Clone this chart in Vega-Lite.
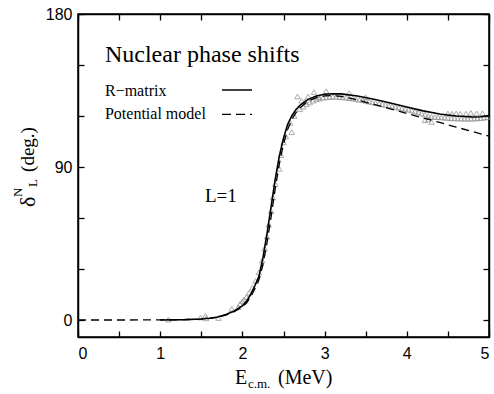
{
  "$schema": "https://vega.github.io/schema/vega-lite/v6.json",
  "width": 411,
  "height": 323,
  "autosize": {"type": "none"},
  "padding": {"left": 78, "top": 14, "right": 5, "bottom": 57},
  "background": "white",
  "config": {
    "view": {"stroke": "black", "strokeWidth": 1.5},
    "axis": {"domainColor": "black", "labelColor": "black", "labelFont": "Liberation Sans", "labelFontSize": 16, "grid": false, "domainWidth": 1.5}
  },
  "datasets": {
    "rmatrix": [
      {"E": 1.0, "deg": 0.0}, {"E": 1.3, "deg": 0.2}, {"E": 1.5, "deg": 0.6}, {"E": 1.6, "deg": 1.0},
      {"E": 1.7, "deg": 1.8}, {"E": 1.8, "deg": 3.2}, {"E": 1.9, "deg": 5.3}, {"E": 2.0, "deg": 8.3},
      {"E": 2.05, "deg": 11.0}, {"E": 2.1, "deg": 15.0}, {"E": 2.15, "deg": 20.0}, {"E": 2.2, "deg": 25.5},
      {"E": 2.25, "deg": 36.5}, {"E": 2.3, "deg": 51.0}, {"E": 2.35, "deg": 67.0}, {"E": 2.4, "deg": 83.0},
      {"E": 2.45, "deg": 96.5}, {"E": 2.5, "deg": 107.0}, {"E": 2.55, "deg": 115.0}, {"E": 2.6, "deg": 120.0},
      {"E": 2.65, "deg": 123.7}, {"E": 2.7, "deg": 126.2}, {"E": 2.8, "deg": 129.8}, {"E": 2.9, "deg": 131.8},
      {"E": 3.0, "deg": 132.8}, {"E": 3.1, "deg": 133.1}, {"E": 3.2, "deg": 133.0}, {"E": 3.4, "deg": 131.8},
      {"E": 3.6, "deg": 129.8}, {"E": 3.8, "deg": 127.6}, {"E": 4.0, "deg": 125.3}, {"E": 4.2, "deg": 123.0},
      {"E": 4.4, "deg": 121.2}, {"E": 4.6, "deg": 120.0}, {"E": 4.8, "deg": 119.4}, {"E": 4.9, "deg": 119.6},
      {"E": 5.0, "deg": 120.3}
    ],
    "potential": [
      {"E": 0.0, "deg": 0.0}, {"E": 0.5, "deg": 0.0}, {"E": 1.0, "deg": 0.05}, {"E": 1.3, "deg": 0.2},
      {"E": 1.5, "deg": 0.5}, {"E": 1.6, "deg": 0.9}, {"E": 1.7, "deg": 1.6}, {"E": 1.8, "deg": 2.9},
      {"E": 1.9, "deg": 4.9}, {"E": 2.0, "deg": 7.8}, {"E": 2.05, "deg": 10.0}, {"E": 2.1, "deg": 13.5},
      {"E": 2.15, "deg": 18.3}, {"E": 2.2, "deg": 23.5}, {"E": 2.25, "deg": 32.5}, {"E": 2.3, "deg": 45.5},
      {"E": 2.35, "deg": 61.0}, {"E": 2.4, "deg": 77.5}, {"E": 2.45, "deg": 92.0}, {"E": 2.5, "deg": 103.5},
      {"E": 2.55, "deg": 112.0}, {"E": 2.6, "deg": 117.8}, {"E": 2.65, "deg": 121.8}, {"E": 2.7, "deg": 124.8},
      {"E": 2.8, "deg": 128.8}, {"E": 2.9, "deg": 130.8}, {"E": 3.0, "deg": 131.8}, {"E": 3.1, "deg": 132.0},
      {"E": 3.2, "deg": 131.6}, {"E": 3.4, "deg": 129.4}, {"E": 3.6, "deg": 126.8}, {"E": 3.8, "deg": 124.2},
      {"E": 4.0, "deg": 121.5}, {"E": 4.2, "deg": 118.8}, {"E": 4.4, "deg": 116.2}, {"E": 4.6, "deg": 113.5},
      {"E": 4.8, "deg": 110.8}, {"E": 5.0, "deg": 108.2}
    ],
    "expt": [
      {"E": 1.10, "deg": 0.3}, {"E": 1.49, "deg": 1.5}, {"E": 1.55, "deg": 2.5}, {"E": 1.56, "deg": 1.0},
      {"E": 1.71, "deg": 1.2}, {"E": 1.87, "deg": 6.5}, {"E": 1.95, "deg": 7.5}, {"E": 1.97, "deg": 9.5},
      {"E": 2.0, "deg": 11.0}, {"E": 2.02, "deg": 12.0}, {"E": 2.05, "deg": 13.5}, {"E": 2.08, "deg": 16.0},
      {"E": 2.12, "deg": 19.0}, {"E": 2.16, "deg": 23.0}, {"E": 2.2, "deg": 28.0}, {"E": 2.24, "deg": 35.0},
      {"E": 2.27, "deg": 42.0}, {"E": 2.3, "deg": 49.0}, {"E": 2.32, "deg": 56.0}, {"E": 2.35, "deg": 64.0},
      {"E": 2.37, "deg": 72.0}, {"E": 2.4, "deg": 80.0}, {"E": 2.45, "deg": 89.0}, {"E": 2.47, "deg": 97.0},
      {"E": 2.5, "deg": 104.5}, {"E": 2.53, "deg": 108.0}, {"E": 2.6, "deg": 110.5}, {"E": 2.58, "deg": 116.0},
      {"E": 2.63, "deg": 120.0}, {"E": 2.67, "deg": 131.5}, {"E": 2.72, "deg": 129.0}, {"E": 2.76, "deg": 128.5},
      {"E": 2.8, "deg": 131.5}, {"E": 2.87, "deg": 134.0}, {"E": 2.92, "deg": 131.0}, {"E": 3.02, "deg": 134.6},
      {"E": 3.3, "deg": 133.5}, {"E": 3.5, "deg": 131.0},
      {"E": 2.70, "deg": 124.0}, {"E": 2.74, "deg": 125.5}, {"E": 2.78, "deg": 127.0}, {"E": 2.82, "deg": 128.0},
      {"E": 2.86, "deg": 129.0}, {"E": 2.90, "deg": 129.8}, {"E": 2.94, "deg": 130.3}, {"E": 2.98, "deg": 130.8},
      {"E": 3.02, "deg": 131.0}, {"E": 3.06, "deg": 131.2}, {"E": 3.10, "deg": 131.3}, {"E": 3.14, "deg": 131.3},
      {"E": 3.18, "deg": 131.2}, {"E": 3.22, "deg": 131.0}, {"E": 3.26, "deg": 130.8}, {"E": 3.30, "deg": 130.5},
      {"E": 3.34, "deg": 130.3}, {"E": 3.38, "deg": 130.0}, {"E": 3.42, "deg": 129.6}, {"E": 3.46, "deg": 129.3},
      {"E": 3.50, "deg": 128.9}, {"E": 3.54, "deg": 128.5}, {"E": 3.58, "deg": 128.1}, {"E": 3.62, "deg": 127.7},
      {"E": 3.66, "deg": 127.3}, {"E": 3.70, "deg": 126.9}, {"E": 3.74, "deg": 126.5}, {"E": 3.78, "deg": 126.1},
      {"E": 3.82, "deg": 125.7}, {"E": 3.86, "deg": 125.3}, {"E": 3.90, "deg": 124.9}, {"E": 3.94, "deg": 124.5},
      {"E": 3.98, "deg": 124.1}, {"E": 4.02, "deg": 123.7}, {"E": 4.06, "deg": 123.2}, {"E": 4.10, "deg": 122.7},
      {"E": 4.14, "deg": 122.2}, {"E": 4.18, "deg": 121.5}, {"E": 4.22, "deg": 120.8}, {"E": 4.26, "deg": 120.0},
      {"E": 4.30, "deg": 119.5}, {"E": 4.34, "deg": 119.4}, {"E": 4.38, "deg": 119.3}, {"E": 4.42, "deg": 119.2},
      {"E": 4.46, "deg": 119.0}, {"E": 4.50, "deg": 118.8}, {"E": 4.54, "deg": 118.7}, {"E": 4.58, "deg": 118.6},
      {"E": 4.62, "deg": 118.5}, {"E": 4.66, "deg": 118.5}, {"E": 4.70, "deg": 118.4}, {"E": 4.74, "deg": 118.4},
      {"E": 4.78, "deg": 118.4}, {"E": 4.82, "deg": 118.5}, {"E": 4.86, "deg": 118.6}, {"E": 4.90, "deg": 118.8},
      {"E": 4.94, "deg": 119.0}, {"E": 4.98, "deg": 119.3},
      {"E": 4.22, "deg": 117.5}, {"E": 4.30, "deg": 116.5}, {"E": 4.26, "deg": 118.0}, {"E": 4.50, "deg": 121.5},
      {"E": 4.55, "deg": 121.3}, {"E": 4.60, "deg": 121.5}, {"E": 4.65, "deg": 121.3}, {"E": 4.72, "deg": 121.4},
      {"E": 4.78, "deg": 121.8}, {"E": 4.85, "deg": 121.5}, {"E": 4.92, "deg": 121.6}
    ]
  },
  "layer": [
    {
      "data": {"name": "expt"},
      "mark": {"type": "point", "shape": "triangle-up", "filled": false, "stroke": "#8a8a8a", "strokeWidth": 1, "size": 30},
      "encoding": {
        "x": {"field": "E", "type": "quantitative", "scale": {"domain": [0, 5], "nice": false, "zero": false},
          "axis": {"orient": "bottom", "title": null, "values": [0, 0.5, 1, 1.5, 2, 2.5, 3, 3.5, 4, 4.5, 5],
            "labelExpr": "datum.value % 1 === 0 ? format(datum.value, 'd') : ''", "labelPadding": 14,
            "tickColor": "black", "tickWidth": 1.3, "tickSize": -6}},
        "y": {"field": "deg", "type": "quantitative", "scale": {"domain": [-10, 180], "nice": false, "zero": false},
          "axis": {"orient": "left", "title": null, "values": [0, 30, 60, 90, 120, 150, 180],
            "labelExpr": "datum.value % 90 === 0 ? format(datum.value, 'd') : ''", "labelPadding": 12,
            "tickColor": "black", "tickWidth": 1.3, "tickSize": -6}}
      }
    },
    {
      "data": {"name": "potential"},
      "mark": {"type": "line", "color": "black", "strokeWidth": 1.3, "strokeDash": [8, 5]},
      "encoding": {
        "x": {"field": "E", "type": "quantitative",
          "axis": {"orient": "top", "title": null, "values": [0, 0.5, 1, 1.5, 2, 2.5, 3, 3.5, 4, 4.5, 5], "labels": false,
            "tickColor": "black", "tickWidth": 1.3, "tickSize": -6}},
        "y": {"field": "deg", "type": "quantitative",
          "axis": {"orient": "right", "title": null, "values": [0, 30, 60, 90, 120, 150, 180], "labels": false,
            "tickColor": "black", "tickWidth": 1.3, "tickSize": -6}}
      }
    },
    {
      "data": {"name": "rmatrix"},
      "mark": {"type": "line", "color": "black", "strokeWidth": 1.6},
      "encoding": {
        "x": {"field": "E", "type": "quantitative", "axis": null},
        "y": {"field": "deg", "type": "quantitative", "axis": null}
      }
    },
    {
      "data": {"values": [{"s": "solid"}]},
      "mark": {"type": "rule", "color": "black", "strokeWidth": 1.5},
      "encoding": {
        "x": {"datum": 1.752, "type": "quantitative", "axis": null}, "x2": {"datum": 2.117},
        "y": {"datum": 135.3, "type": "quantitative", "axis": null}
      }
    },
    {
      "data": {"values": [{"s": "dashed"}]},
      "mark": {"type": "rule", "color": "black", "strokeWidth": 1.3, "strokeDash": [9, 5]},
      "encoding": {
        "x": {"datum": 1.752, "type": "quantitative", "axis": null}, "x2": {"datum": 2.117},
        "y": {"datum": 120.9, "type": "quantitative", "axis": null}
      }
    },
    {
      "data": {"values": [{"t": "Nuclear phase shifts"}]},
      "mark": {"type": "text", "font": "Liberation Serif", "fontSize": 24, "align": "left", "baseline": "alphabetic", "color": "black"},
      "encoding": {"text": {"field": "t"}, "x": {"datum": 0.328, "type": "quantitative", "axis": null}, "y": {"datum": 151.8, "type": "quantitative", "axis": null}}
    },
    {
      "data": {"values": [{"t": "R−matrix"}]},
      "mark": {"type": "text", "font": "Liberation Serif", "fontSize": 16, "align": "left", "baseline": "alphabetic", "color": "black"},
      "encoding": {"text": {"field": "t"}, "x": {"datum": 0.328, "type": "quantitative", "axis": null}, "y": {"datum": 131.8, "type": "quantitative", "axis": null}}
    },
    {
      "data": {"values": [{"t": "Potential model"}]},
      "mark": {"type": "text", "font": "Liberation Serif", "fontSize": 16, "align": "left", "baseline": "alphabetic", "color": "black"},
      "encoding": {"text": {"field": "t"}, "x": {"datum": 0.328, "type": "quantitative", "axis": null}, "y": {"datum": 118.2, "type": "quantitative", "axis": null}}
    },
    {
      "data": {"values": [{"t": "L=1"}]},
      "mark": {"type": "text", "font": "Liberation Serif", "fontSize": 19, "align": "left", "baseline": "alphabetic", "color": "black"},
      "encoding": {"text": {"field": "t"}, "x": {"datum": 1.545, "type": "quantitative", "axis": null}, "y": {"datum": 69.4, "type": "quantitative", "axis": null}}
    },
    {
      "data": {"values": [{"t": "E"}]},
      "mark": {"type": "text", "font": "Liberation Serif", "fontSize": 20, "align": "left", "baseline": "alphabetic", "color": "black"},
      "encoding": {"text": {"field": "t"}, "x": {"datum": 1.91, "type": "quantitative", "axis": null}, "y": {"datum": -37.6, "type": "quantitative", "axis": null}}
    },
    {
      "data": {"values": [{"t": "c.m."}]},
      "mark": {"type": "text", "font": "Liberation Serif", "fontSize": 13, "align": "left", "baseline": "alphabetic", "color": "black"},
      "encoding": {"text": {"field": "t"}, "x": {"datum": 2.068, "type": "quantitative", "axis": null}, "y": {"datum": -40.0, "type": "quantitative", "axis": null}}
    },
    {
      "data": {"values": [{"t": "(MeV)"}]},
      "mark": {"type": "text", "font": "Liberation Serif", "fontSize": 20, "align": "left", "baseline": "alphabetic", "color": "black"},
      "encoding": {"text": {"field": "t"}, "x": {"datum": 2.433, "type": "quantitative", "axis": null}, "y": {"datum": -37.6, "type": "quantitative", "axis": null}}
    },
    {
      "data": {"values": [{"t": "δ"}]},
      "mark": {"type": "text", "font": "Liberation Serif", "fontSize": 22, "align": "left", "baseline": "alphabetic", "angle": 270, "color": "black"},
      "encoding": {"text": {"field": "t"}, "x": {"datum": -0.523, "type": "quantitative", "axis": null}, "y": {"datum": 66.5, "type": "quantitative", "axis": null}}
    },
    {
      "data": {"values": [{"t": "N"}]},
      "mark": {"type": "text", "font": "Liberation Serif", "fontSize": 13, "align": "left", "baseline": "alphabetic", "angle": 270, "color": "black"},
      "encoding": {"text": {"field": "t"}, "x": {"datum": -0.681, "type": "quantitative", "axis": null}, "y": {"datum": 72.4, "type": "quantitative", "axis": null}}
    },
    {
      "data": {"values": [{"t": "L"}]},
      "mark": {"type": "text", "font": "Liberation Serif", "fontSize": 13, "align": "left", "baseline": "alphabetic", "angle": 270, "color": "black"},
      "encoding": {"text": {"field": "t"}, "x": {"datum": -0.499, "type": "quantitative", "axis": null}, "y": {"datum": 78.2, "type": "quantitative", "axis": null}}
    },
    {
      "data": {"values": [{"t": "(deg.)"}]},
      "mark": {"type": "text", "font": "Liberation Serif", "fontSize": 19, "align": "left", "baseline": "alphabetic", "angle": 270, "color": "black"},
      "encoding": {"text": {"field": "t"}, "x": {"datum": -0.535, "type": "quantitative", "axis": null}, "y": {"datum": 87.1, "type": "quantitative", "axis": null}}
    }
  ],
  "resolve": {"axis": {"x": "independent", "y": "independent"}}
}
